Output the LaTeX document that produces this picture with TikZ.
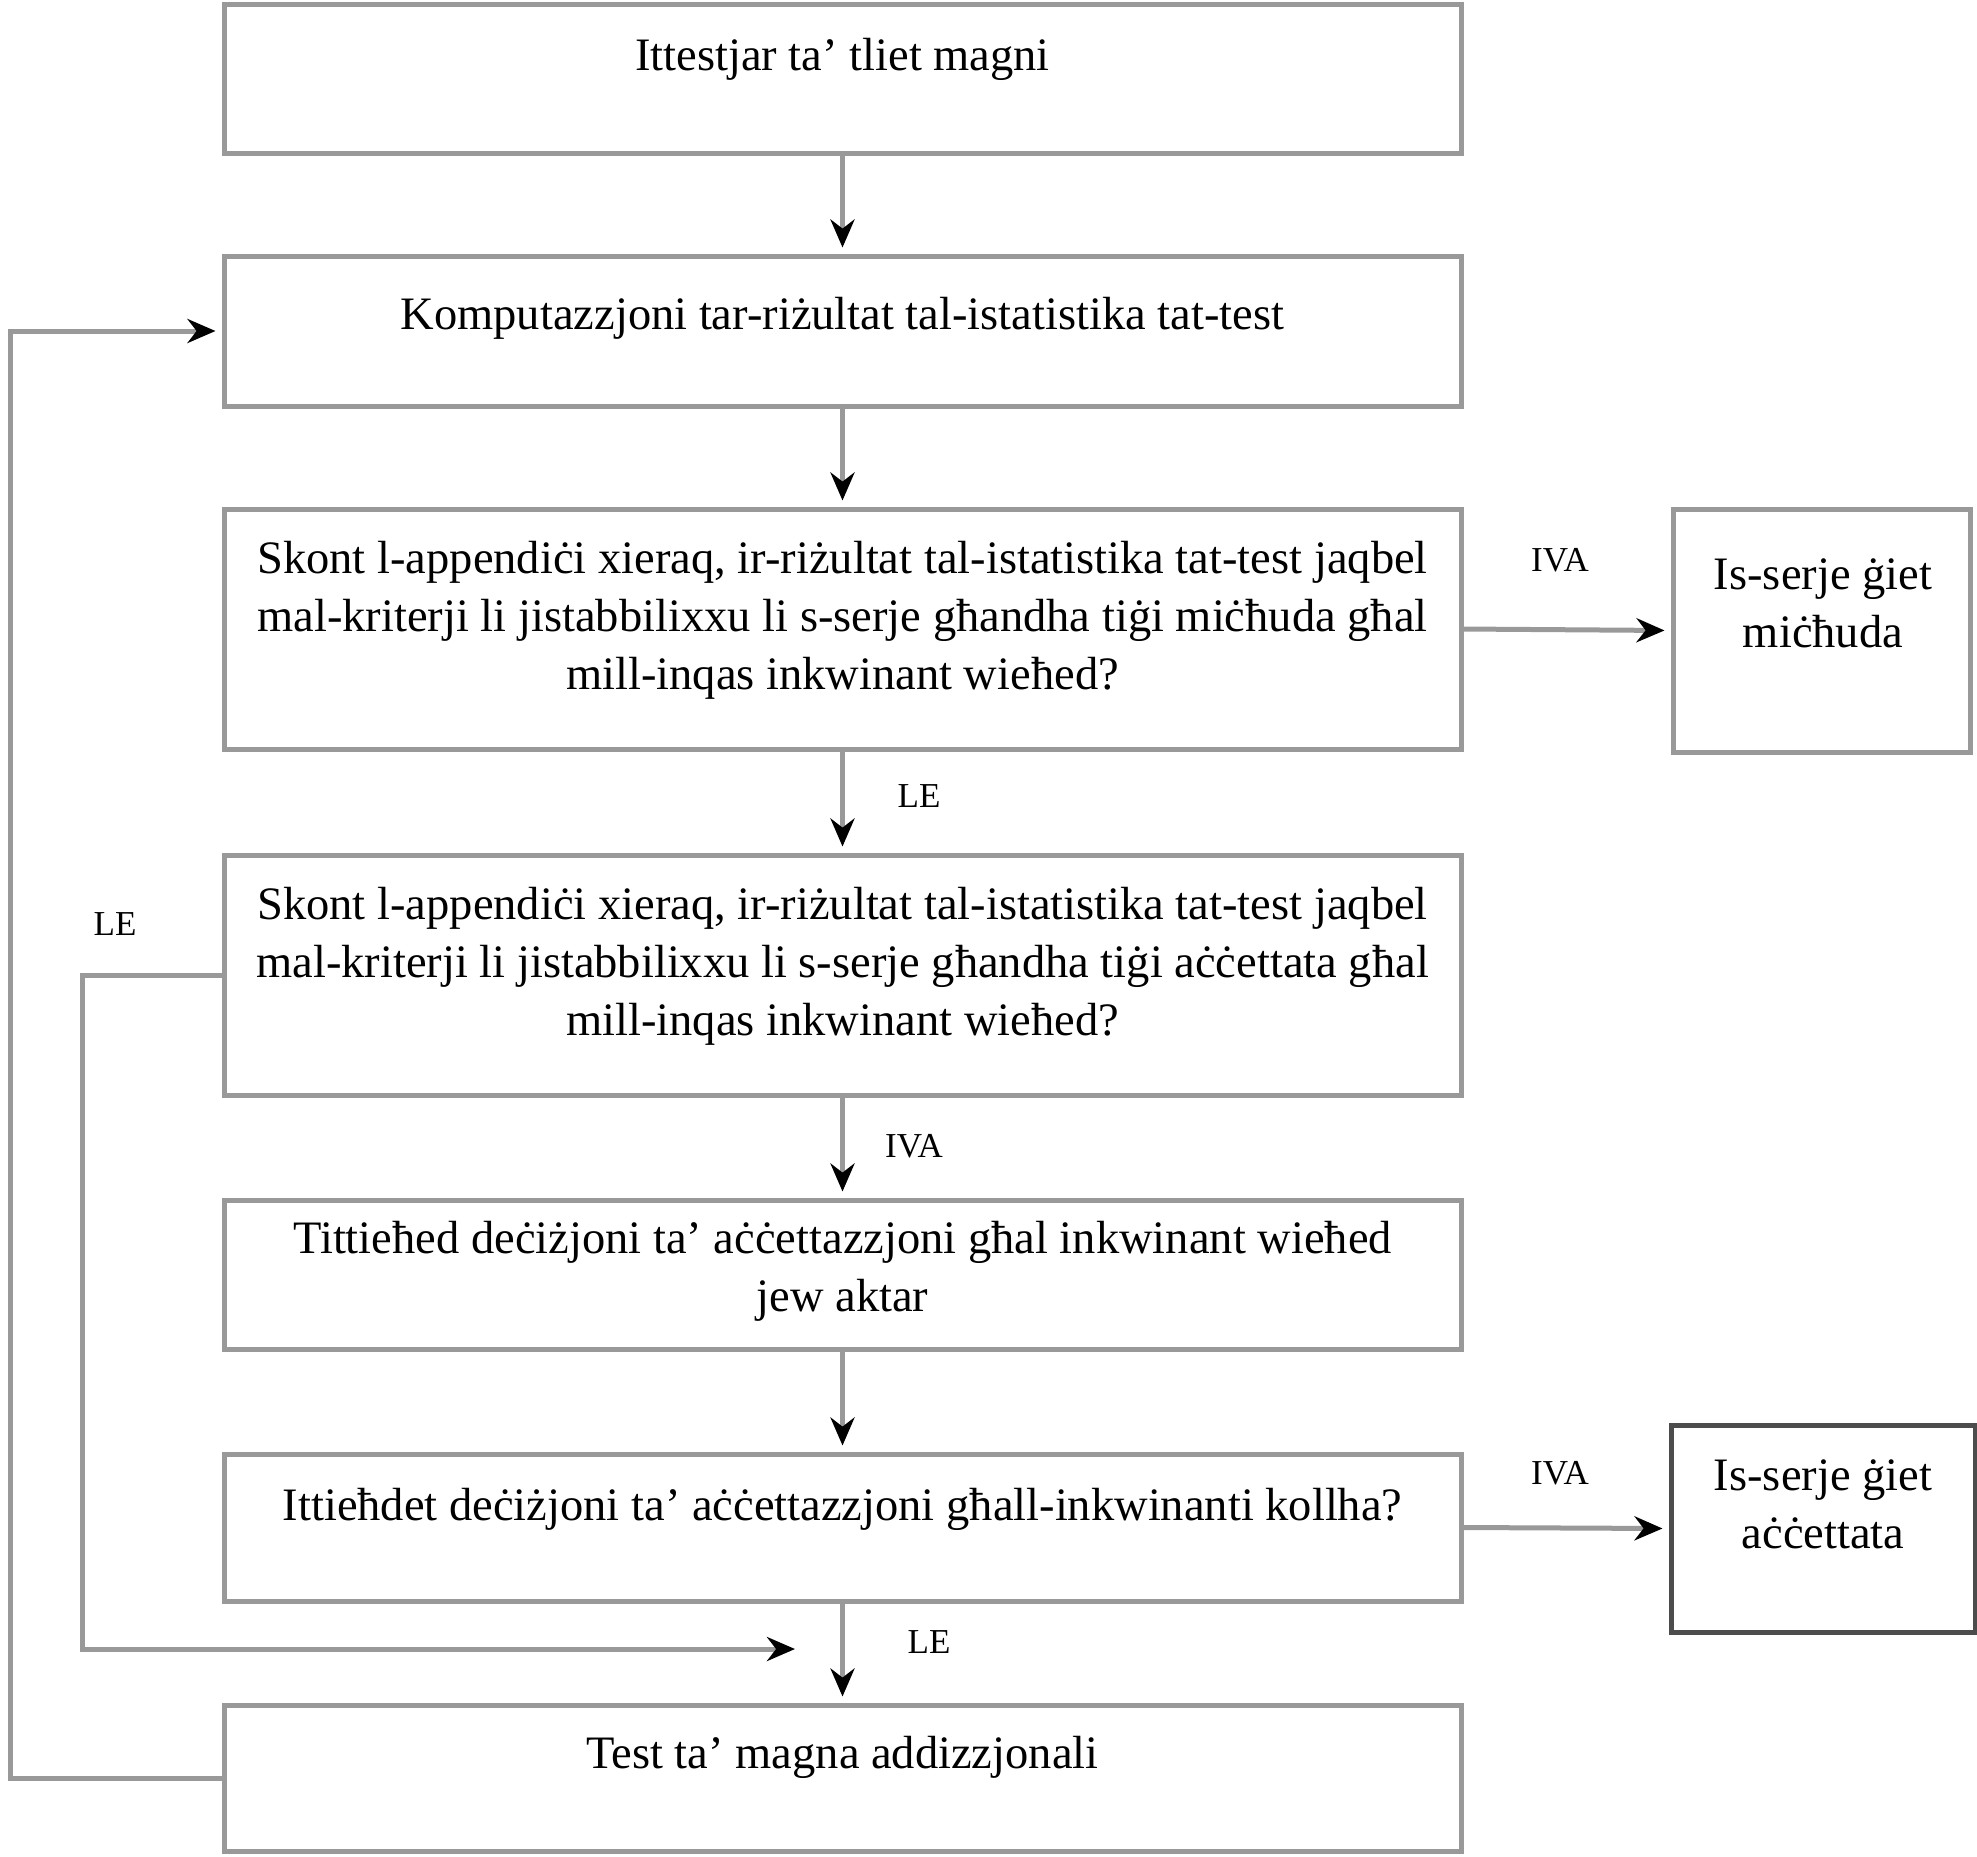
\documentclass[tikz,border=0pt]{standalone}
\usepackage{fontspec}
\setmainfont{Liberation Serif}
\usetikzlibrary{arrows.meta}
\begin{document}
\begin{tikzpicture}[x=1pt,y=-1pt,
  box/.style={draw=black!40, line width=5pt, inner sep=0pt, minimum width=1237pt},
  sidebox/.style={draw=black!40, line width=5pt, inner sep=0pt},
  txt/.style={align=center, font=\fontsize{46.5}{58}\selectfont, inner sep=0pt},
  lbl/.style={font=\fontsize{35}{40}\selectfont, inner sep=0pt},
  conn/.style={draw=black!40, line width=5pt, shorten >=6pt, -{Stealth[black,length=28pt,width=24pt]}},
  link/.style={draw=black!40, line width=5pt}]
\useasboundingbox (0,0) rectangle (1977,1856);
% boxes
\node[box, minimum height=149pt] (b1) at (842.5,78.5) {};
\node[box, minimum height=150pt] (b2) at (842.5,331) {};
\node[box, minimum height=240pt] (b3) at (842.5,629) {};
\node[sidebox, minimum width=297pt, minimum height=243pt] (s1) at (1821.5,630.5) {};
\node[box, minimum height=240pt] (b4) at (842.5,975) {};
\node[box, minimum height=149pt] (b5) at (842.5,1274.5) {};
\node[box, minimum height=147pt] (b6) at (842.5,1527.5) {};
\node[sidebox, draw=black!70, minimum width=304pt, minimum height=207pt] (s2) at (1823,1528.5) {};
\node[box, minimum height=146pt] (b7) at (842.5,1778) {};
% texts
\node[txt] (t1) at (842.5,59) {Ittestjar ta’ tliet magni};
\node[txt] (t2) at (842.5,318) {Komputazzjoni tar-riżultat tal-istatistika tat-test};
\node[txt] (t3) at (842.5,620) {Skont l-appendiċi xieraq, ir-riżultat tal-istatistika tat-test jaqbel\\mal-kriterji li jistabbilixxu li s-serje għandha tiġi miċħuda għal\\mill-inqas inkwinant wieħed?};
\node[txt] (ts1) at (1823,603) {Is-serje ġiet\\miċħuda};
\node[txt] (t4) at (842.5,966) {Skont l-appendiċi xieraq, ir-riżultat tal-istatistika tat-test jaqbel\\mal-kriterji li jistabbilixxu li s-serje għandha tiġi aċċettata għal\\mill-inqas inkwinant wieħed?};
\node[txt] (t5) at (842.5,1271) {Tittieħed deċiżjoni ta’ aċċettazzjoni għal inkwinant wieħed\\jew aktar};
\node[txt] (t6) at (842.5,1509) {Ittieħdet deċiżjoni ta’ aċċettazzjoni għall-inkwinanti kollha?};
\node[txt] (ts2) at (1823,1504) {Is-serje ġiet\\aċċettata};
\node[txt] (t7) at (842.5,1757) {Test ta’ magna addizzjonali};
% labels
\node[lbl] (l1) at (1560,560) {IVA};
\node[lbl] (l2) at (919,796) {LE};
\node[lbl] (l3) at (914,1146) {IVA};
\node[lbl] (l4) at (1560,1473) {IVA};
\node[lbl] (l5) at (929,1642) {LE};
\node[lbl] (l6) at (115,924) {LE};
% connectors
\draw[conn] (b1.south) -- (b2.north);
\draw[conn] (b2.south) -- (b3.north);
\draw[conn] (b3.south) -- (b4.north);
\draw[conn] (b4.south) -- (b5.north);
\draw[conn] (b5.south) -- (b6.north);
\draw[conn] (b6.south) -- (b7.north);
\draw[conn] (b3.east) -- (s1.west);
\draw[conn] (b6.east) -- (s2.west);
\draw[conn] (b7.west) -- (10,1778) -- (10,331) -- (b2.west);
\coordinate (e2) at (801,1649);
\draw[conn] (b4.west) -- (82,975) -- (82,1649) -- (e2);
\end{tikzpicture}
\end{document}
